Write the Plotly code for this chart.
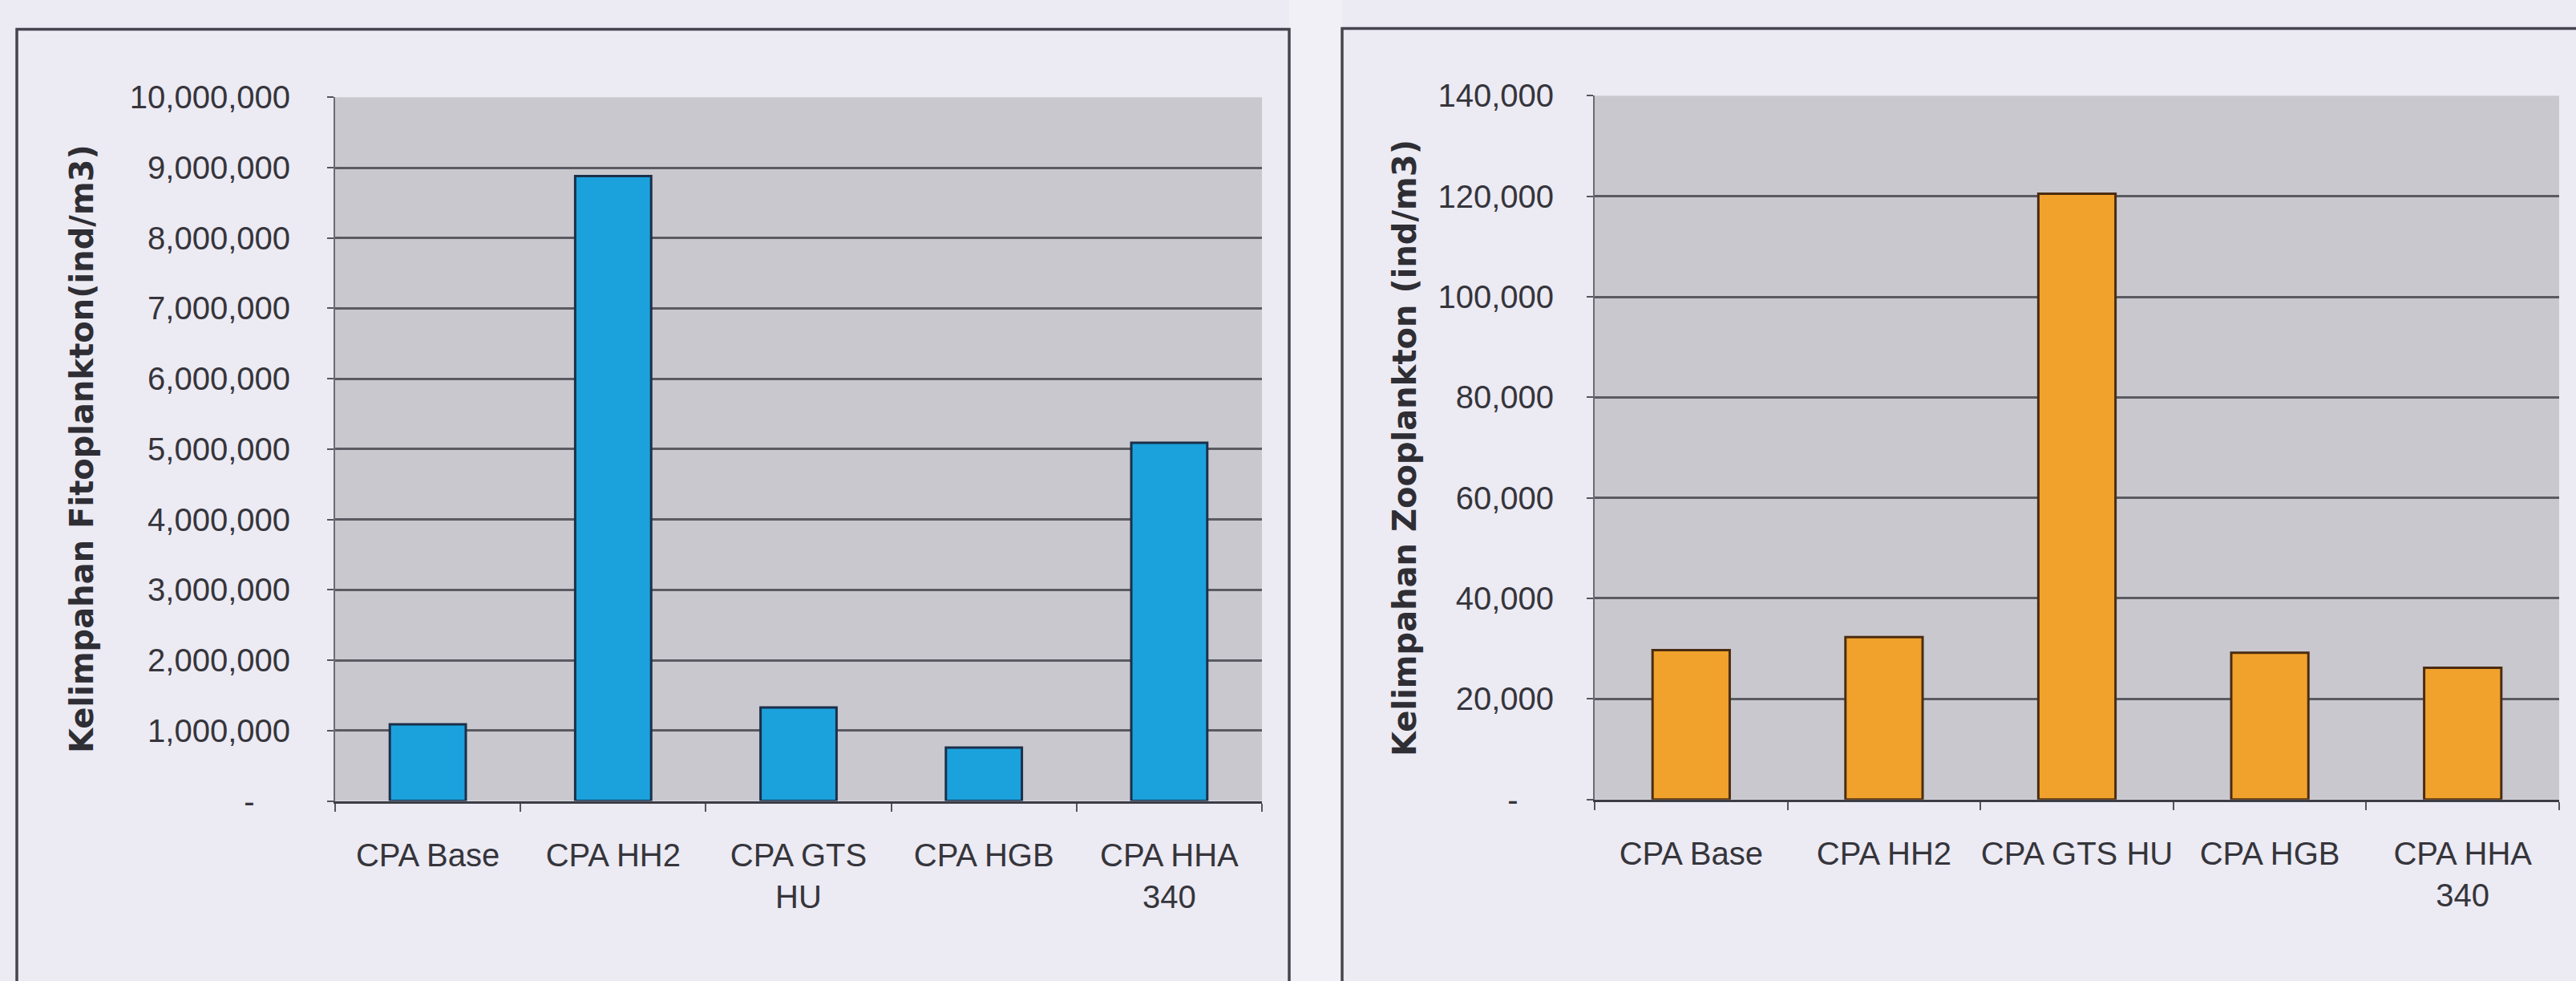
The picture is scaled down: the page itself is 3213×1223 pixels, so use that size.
import plotly.graph_objects as go

# Abundance data per station
fito_categories = ["CPA Base", "CPA HH2", "CPA GTS<br>HU", "CPA HGB", "CPA HHA<br>340"]
fito_values = [1090000, 8880000, 1330000, 760000, 5090000]

zoo_categories = ["CPA Base", "CPA HH2", "CPA GTS HU", "CPA HGB", "CPA HHA<br>340"]
zoo_values = [29700, 32300, 120500, 29200, 26200]

fito_ticks = [0, 1000000, 2000000, 3000000, 4000000, 5000000,
              6000000, 7000000, 8000000, 9000000, 10000000]
zoo_ticks = [0, 20000, 40000, 60000, 80000, 100000, 120000, 140000]

fito_title = "Kelimpahan Fitoplankton(ind/m3)"
zoo_title = "Kelimpahan Zooplankton (ind/m3)"

W, H = 3213, 1223
PAPER = "#eceaf3"
PLOT_BG = "#c9c8ce"
GRID = "#5a5a62"
TEXT = "#35353b"
FONT = "Liberation Sans, Arial, sans-serif"
TITLE_FONT = "DejaVu Sans, sans-serif"


def px_x(v):
    return v / W


def px_y(v):
    return 1 - v / H


def tick_labels(vals):
    # accounting style: zero shown as a dash
    out = []
    for v in vals:
        out.append("-\u00a0\u00a0\u00a0\u00a0" if v == 0 else f"{v:,}")
    return out


fig = go.Figure()

fig.add_trace(go.Bar(
    x=fito_categories, y=fito_values, width=0.41,
    marker=dict(color="#1ba2dc", line=dict(color="#1c2f4a", width=3)),
    xaxis="x", yaxis="y", showlegend=False,
))
fig.add_trace(go.Bar(
    x=zoo_categories, y=zoo_values, width=0.40,
    marker=dict(color="#f1a22c", line=dict(color="#4a2c12", width=3)),
    xaxis="x2", yaxis="y2", showlegend=False,
))

xaxis_common = dict(
    type="category", showgrid=False, showline=True, linecolor="#3c3c44", linewidth=3,
    ticks="outside", tickson="boundaries", ticklen=10, tickwidth=2, tickcolor="#55555d",
    tickfont=dict(family=FONT, size=40, color=TEXT), ticklabelstandoff=30,
    tickangle=0, fixedrange=True,
)
yaxis_common = dict(
    showgrid=True, gridcolor=GRID, gridwidth=2.5, zeroline=False,
    showline=True, linecolor="#6a6a72", linewidth=2,
    ticks="outside", ticklen=8, tickwidth=2, tickcolor="#55555d",
    tickfont=dict(family=FONT, size=40, color=TEXT),
    fixedrange=True,
)

fig.update_layout(
    width=W, height=H,
    margin=dict(l=0, r=0, t=0, b=0),
    paper_bgcolor=PAPER,
    plot_bgcolor=PLOT_BG,
    xaxis=dict(domain=[px_x(418), px_x(1574)], anchor="y", **xaxis_common),
    yaxis=dict(domain=[px_y(1013), px_y(103)], anchor="x", range=[0, 10000000],
               tickvals=fito_ticks, ticktext=tick_labels(fito_ticks),
               ticklabelstandoff=38, **yaxis_common),
    xaxis2=dict(domain=[px_x(1989), px_x(3192)], anchor="y2", **xaxis_common),
    yaxis2=dict(domain=[px_y(1011), px_y(101)], anchor="x2", range=[0, 140000],
                tickvals=zoo_ticks, ticktext=tick_labels(zoo_ticks),
                ticklabelstandoff=33, **yaxis_common),
    bargap=0.59,
)

# Rotated axis titles
for x_px, y_px, txt in [(102, 558, fito_title), (1752, 556, zoo_title)]:
    fig.add_annotation(
        x=px_x(x_px), y=px_y(y_px), xref="paper", yref="paper",
        text=f"<b>{txt}</b>", showarrow=False, textangle=-90,
        xanchor="center", yanchor="middle",
        font=dict(family=TITLE_FONT, size=40, color="#2e2e34"),
    )

# Chart frames and the gap between them
fig.add_shape(type="rect", xref="paper", yref="paper", layer="below",
              x0=px_x(1608), x1=px_x(1674), y0=-0.05, y1=1.05,
              fillcolor="#f1f0f6", line=dict(width=0))
fig.add_shape(type="rect", xref="paper", yref="paper", layer="below",
              x0=px_x(21), x1=px_x(1608), y0=-0.05, y1=px_y(15),
              fillcolor="rgba(0,0,0,0)", line=dict(color="#45454f", width=3.5))
fig.add_shape(type="rect", xref="paper", yref="paper", layer="below",
              x0=px_x(1674), x1=1.05, y0=-0.05, y1=px_y(14),
              fillcolor="rgba(0,0,0,0)", line=dict(color="#45454f", width=3.5))

fig.write_html("out.html")
